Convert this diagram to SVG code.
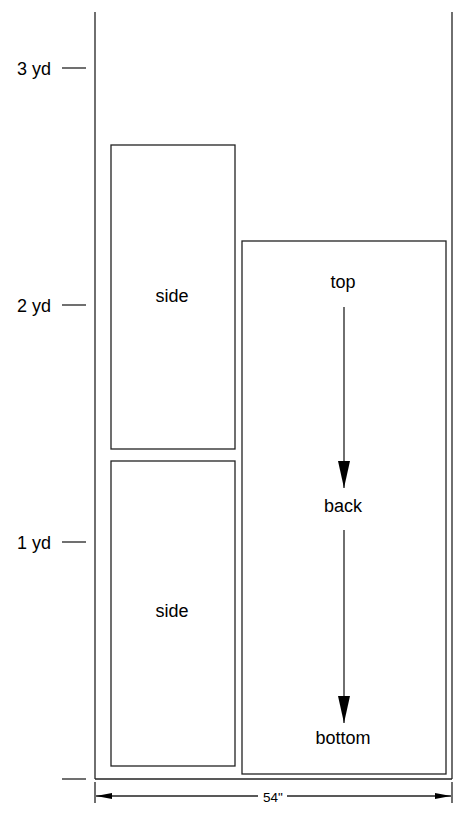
<svg xmlns="http://www.w3.org/2000/svg" width="471" height="815" viewBox="0 0 471 815">
<style>
.ln{stroke:#222;stroke-width:1.3;fill:none}
.bx{stroke:#222;stroke-width:1.3;fill:#fff}
.t{font-family:"Liberation Sans",Arial,sans-serif;font-size:18px;fill:#000;text-anchor:middle;dominant-baseline:central}
.yd{font-family:"Liberation Sans",Arial,sans-serif;font-size:18px;fill:#000;text-anchor:end;dominant-baseline:central}
</style>
<defs>
<marker id="ah" markerWidth="12" markerHeight="27" refX="6" refY="27" orient="0" markerUnits="userSpaceOnUse" viewBox="0 0 12 27">
<path d="M0,0 L12,0 L6,27 Z" fill="#000"/>
</marker>
<marker id="dh" markerWidth="16" markerHeight="6" refX="16" refY="3" orient="auto" markerUnits="userSpaceOnUse" viewBox="0 0 16 6">
<path d="M0,0 L16,3 L0,6 Z" fill="#000"/>
</marker>
</defs>
<rect width="471" height="815" fill="#fff"/>
<g id="fabric">
<line class="ln" x1="95" y1="12" x2="95" y2="779"/>
<line class="ln" x1="452" y1="12" x2="452" y2="779"/>
<line class="ln" x1="95" y1="779" x2="452" y2="779"/>
</g>
<g id="scale">
<line class="ln" x1="62" y1="68" x2="86" y2="68"/>
<text class="yd" x="51" y="69">3 yd</text>
<line class="ln" x1="62" y1="305" x2="86" y2="305"/>
<text class="yd" x="51" y="306">2 yd</text>
<line class="ln" x1="62" y1="542" x2="86" y2="542"/>
<text class="yd" x="51" y="543">1 yd</text>
<line class="ln" x1="62" y1="779" x2="86" y2="779"/>
</g>
<g id="side1">
<rect class="bx" x="111" y="145" width="124" height="304"/>
<text class="t" x="172" y="296">side</text>
</g>
<g id="side2">
<rect class="bx" x="111" y="461" width="124" height="305"/>
<text class="t" x="172" y="611">side</text>
</g>
<g id="main">
<rect class="bx" x="242" y="241" width="204" height="533"/>
</g>
<g id="top"><text class="t" x="343" y="282">top</text></g>
<g id="back"><text class="t" x="343" y="506">back</text></g>
<g id="bottom"><text class="t" x="343" y="738">bottom</text></g>
<g id="connectors">
<line class="ln" x1="344" y1="307" x2="344" y2="488" marker-end="url(#ah)"/>
<line class="ln" x1="344" y1="530" x2="344" y2="723" marker-end="url(#ah)"/>
</g>
<g id="dimension">
<line class="ln" x1="95" y1="782" x2="95" y2="803"/>
<line class="ln" x1="452" y1="782" x2="452" y2="803"/>
<line class="ln" x1="258" y1="796" x2="96" y2="796" marker-end="url(#dh)"/>
<line class="ln" x1="287" y1="796" x2="451" y2="796" marker-end="url(#dh)"/>
<text x="273" y="797" font-family="'Liberation Sans',Arial,sans-serif" font-size="13.5" text-anchor="middle" dominant-baseline="central">54"</text>
</g>
</svg>
